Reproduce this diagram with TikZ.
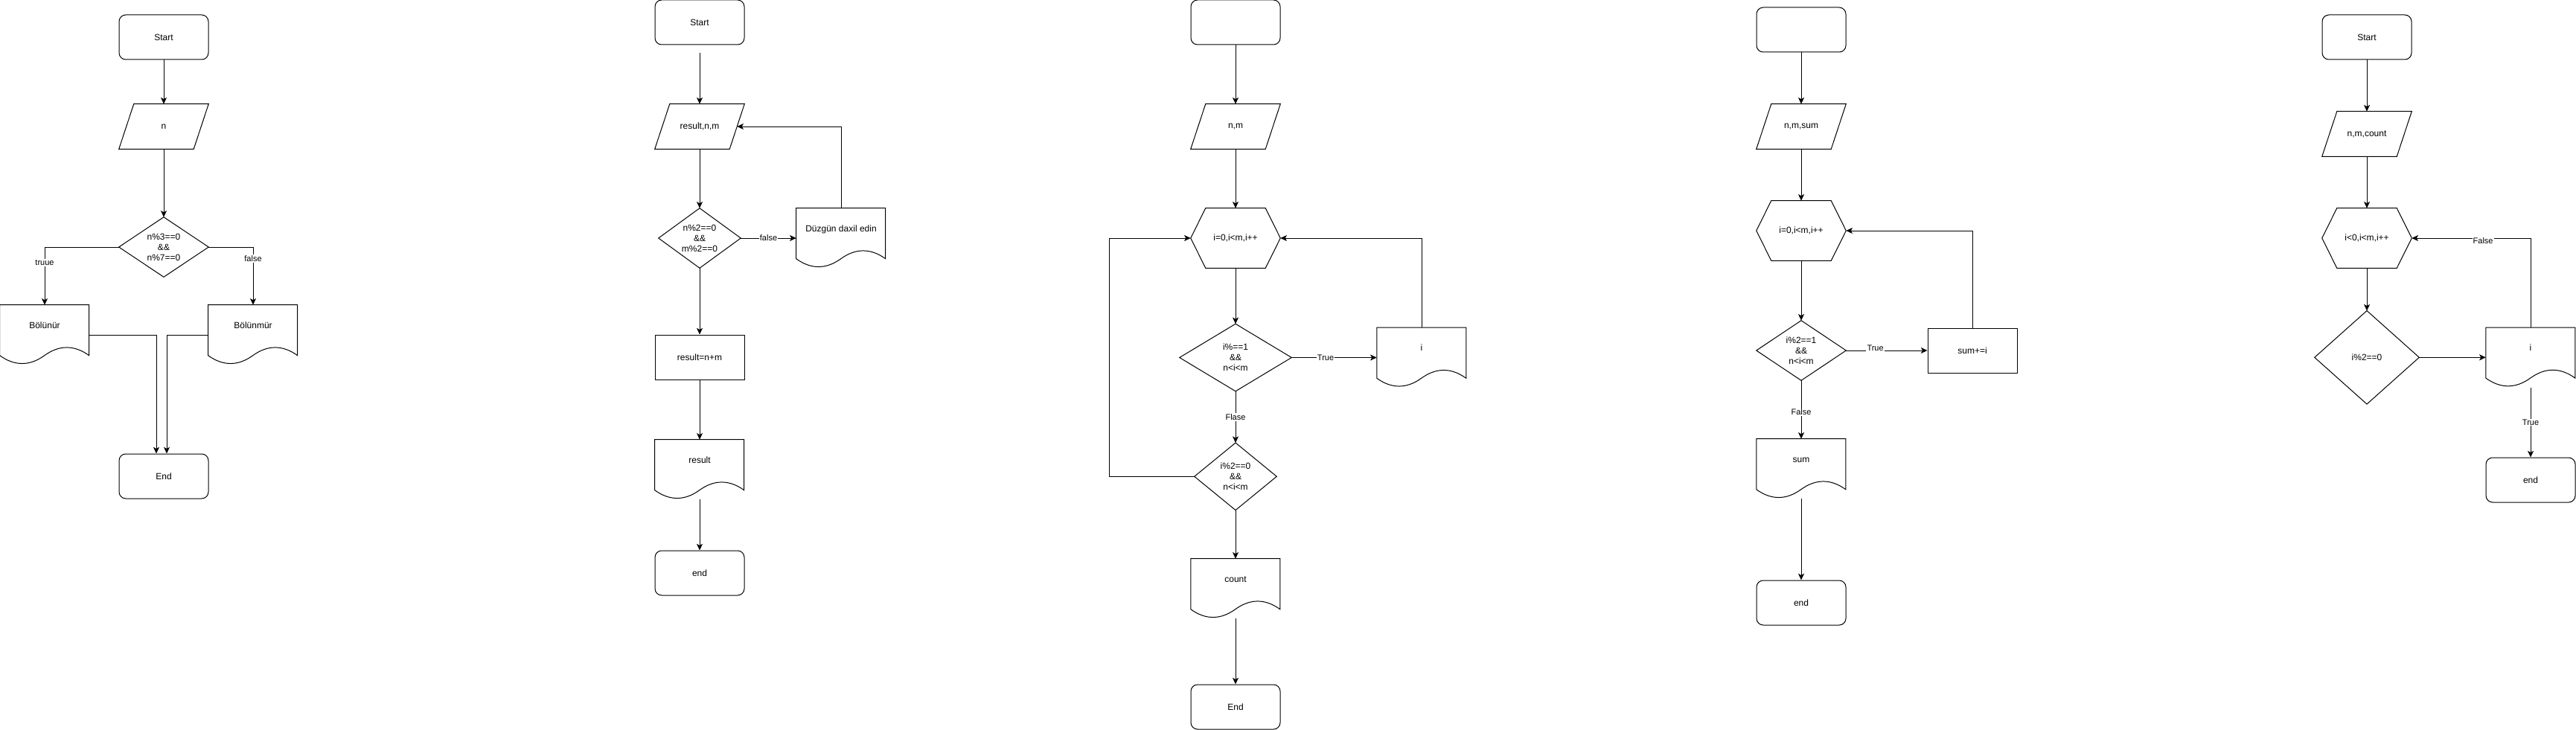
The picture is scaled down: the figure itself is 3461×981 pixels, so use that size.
\documentclass[tikz,border=0pt]{standalone}
\usepackage{fontspec}
\setmainfont{Liberation Sans}
\usetikzlibrary{arrows.meta,calc}
\tikzset{
  shp/.style={draw=black, line width=0.75pt},
  lbase/.style={inner sep=0pt, align=center, font=\fontsize{9}{10.5}\selectfont},
  term/.style={lbase, shp, rectangle, rounded corners=6.75pt, minimum width=90pt, minimum height=45pt},
  procbox/.style={lbase, shp, rectangle, minimum width=90pt, minimum height=45pt},
  parabox/.style={lbase, rectangle, minimum width=90pt, minimum height=45pt},
  hexbox/.style={lbase, rectangle, minimum width=90pt, minimum height=60pt},
  diabox/.style 2 args={lbase, rectangle, minimum width=#1, minimum height=#2},
  docnode/.style={inner sep=0pt, rectangle, font=\fontsize{9}{10.5}\selectfont, minimum width=90pt, text height=23.25pt, text depth=36.75pt},
  arr/.style={shp, -{Stealth[length=6.5pt,width=6pt,inset=1.6pt]}},
  lbl/.style={fill=white, inner sep=0.8pt, font=\fontsize{8.25}{9.5}\selectfont},
}
\newcommand\diaoutline[1]{\draw[shp] (#1.north) -- (#1.east) -- (#1.south) -- (#1.west) -- cycle;}
\newcommand\hexoutline[1]{\draw[shp] ([xshift=15pt]#1.north west) -- ([xshift=-15pt]#1.north east) -- (#1.east) -- ([xshift=-15pt]#1.south east) -- ([xshift=15pt]#1.south west) -- (#1.west) -- cycle;}
\newcommand\paraoutline[1]{\draw[shp] ([xshift=15pt]#1.north west) -- (#1.north east) -- ([xshift=-15pt]#1.south east) -- (#1.south west) -- cycle;}
\newcommand\docoutline[1]{\begin{scope}[shift={(#1.north west)}]\draw[shp] (0,0) -- (120,0) -- (120,68) .. controls (100,53.6) and (80,53.6) .. (60,68) .. controls (40,82.4) and (20,82.4) .. (0,68) -- cycle;\end{scope}}
\begin{document}
\begin{tikzpicture}[x=0.75pt, y=-0.75pt]
\fill[white] (0,0) rectangle (3461,981);
\useasboundingbox (0,0) rectangle (3461,981);

% ---------- chart 1 ----------
\node[term] (s1) at (220,50) {Start};
\node[parabox] (p1) at (220,170) {n};
\node[diabox={90pt}{60pt}] (d1) at (220,332) {n\%3==0\\\&\&\\n\%7==0};
\node[docnode] (b1) at (60,450) {Bölünür};
\node[docnode] (b2) at (340,450) {Bölünmür};
\node[term] (e1) at (220,640) {End};
\paraoutline{p1}\diaoutline{d1}\docoutline{b1}\docoutline{b2}
\draw[arr] (s1.south) -- (p1.north);
\draw[arr] (p1.south) -- (d1.north);
\draw[arr] (d1.west) -| node[lbl,pos=0.635]{truue} (b1.north);
\draw[arr] (d1.east) -| node[lbl,pos=0.6]{false} (b2.north);
\draw[arr] (b1.east) -| ([xshift=-7.5pt]e1.north);
\draw[arr] (b2.west) -| ([xshift=3pt]e1.north);

% ---------- chart 2 ----------
\node[term] (s2) at (940,30) {Start};
\coordinate (s2a) at (940,70.6);
\node[parabox] (p2) at (940,170) {result,n,m};
\node[diabox={82.5pt}{60pt}] (d2) at (940,320) {n\%2==0\\\&\&\\m\%2==0};
\node[docnode] (dz) at (1130,320) {Düzgün daxil edin};
\node[procbox] (r2) at (940,480) {result=n+m};
\node[docnode] (o2) at (940,631) {result};
\node[term] (e2) at (940,770) {end};
\paraoutline{p2}\diaoutline{d2}\docoutline{dz}\docoutline{o2}
\draw[arr] (s2a) -- (p2.north);
\draw[arr] (p2.south) -- (d2.north);
\draw[arr] (d2.east) -- node[lbl]{false} (dz.west);
\draw[arr] (dz.north) |- ([xshift=-7.5pt]p2.east);
\draw[arr] (d2.south) -- (r2.north);
\draw[arr] (r2.south) -- (o2.north);
\draw[arr] (o2.south) -- (e2.north);

% ---------- chart 3 ----------
\node[term] (s3) at (1660,30) {};
\node[parabox] (p3) at (1660,170) {n,m};
\node[hexbox] (h3) at (1660,320) {i=0,i<m,i++};
\node[diabox={112.5pt}{67.5pt}] (d31) at (1660,480.5) {i\%==1\\\&\&\\n<i<m};
\node[docnode] (i3) at (1910,480.5) {i};
\node[diabox={82.5pt}{67.5pt}] (d32) at (1660,640.3) {i\%2==0\\\&\&\\n<i<m};
\node[docnode] (c3) at (1660,791) {count};
\node[term] (e3) at (1660,950) {End};
\coordinate (l3) at (1490.7,640.3);
\paraoutline{p3}\hexoutline{h3}\diaoutline{d31}\diaoutline{d32}\docoutline{i3}\docoutline{c3}
\draw[arr] (s3.south) -- (p3.north);
\draw[arr] (p3.south) -- (h3.north);
\draw[arr] (h3.south) -- (d31.north);
\draw[arr] (d31.east) -- node[lbl,pos=0.4]{True} (i3.west);
\draw[arr] (i3.north) |- (h3.east);
\draw[arr] (d31.south) -- node[lbl]{Flase} (d32.north);
\draw[arr] (d32.west) -- (l3) |- (h3.west);
\draw[arr] (d32.south) -- (c3.north);
\draw[arr] (c3.south) -- (e3.north);

% ---------- chart 4 ----------
\node[term] (s4) at (2420,40) {};
\node[parabox] (p4) at (2420,170) {n,m,sum};
\node[hexbox] (h4) at (2420,310) {i=0,i<m,i++};
\node[diabox={90pt}{60pt}] (d4) at (2420,471) {i\%2==1\\\&\&\\n<i<m};
\node[procbox] (sr4) at (2650,471) {sum+=i};
\node[docnode] (sm4) at (2420,630) {sum};
\node[term] (e4) at (2420,810) {end};
\paraoutline{p4}\hexoutline{h4}\diaoutline{d4}\docoutline{sm4}
\draw[arr] (s4.south) -- (p4.north);
\draw[arr] (p4.south) -- (h4.north);
\draw[arr] (h4.south) -- (d4.north);
\draw[arr] (d4.east) -- node[lbl,pos=0.36,yshift=2.25pt]{True} (sr4.west);
\draw[arr] (sr4.north) |- (h4.east);
\draw[arr] (d4.south) -- node[lbl,pos=0.54]{False} (sm4.north);
\draw[arr] (sm4.south) -- (e4.north);

% ---------- chart 5 ----------
\node[term] (s5) at (3180,50) {Start};
\node[parabox] (p5) at (3180,180) {n,m,count};
\node[hexbox] (h5) at (3180,320) {i<0,i<m,i++};
\node[diabox={105pt}{93.75pt}] (d5) at (3180,480.3) {i\%2==0};
\node[docnode] (i5) at (3400,480.3) {i};
\node[term] (e5) at (3400,645) {end};
\paraoutline{p5}\hexoutline{h5}\diaoutline{d5}\docoutline{i5}
\draw[arr] (s5.south) -- (p5.north);
\draw[arr] (p5.south) -- (h5.north);
\draw[arr] (h5.south) -- (d5.north);
\draw[arr] (d5.east) -- (i5.west);
\draw[arr] (i5.north) |- node[lbl,pos=0.7,yshift=-3pt]{False} (h5.east);
\draw[arr] (i5.south) -- node[lbl]{True} (e5.north);
\end{tikzpicture}
\end{document}
